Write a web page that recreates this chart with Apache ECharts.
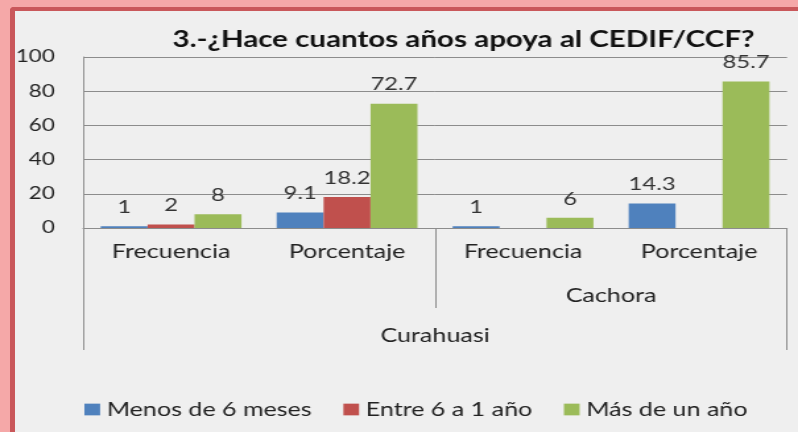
<!DOCTYPE html>
<html>
<head>
<meta charset="utf-8">
<script src="https://cdn.jsdelivr.net/npm/echarts@6/dist/echarts.min.js"></script>
<style>
  html, body { margin: 0; padding: 0; }
  #frame { position: relative; width: 798px; height: 432px; overflow: hidden; background: #f5a8a8; }
  #panel { position: absolute; left: 10px; top: 7px; right: -10px; bottom: -10px; background: #efefef;
           border-left: 5px solid #c9575a; border-top: 4px solid #c9575a; border-top-left-radius: 4px; }
  /* el gráfico original viene estirado horizontalmente */
  #chart { position: absolute; left: 0; top: 0; width: 605px; height: 432px;
           transform: scaleX(1.319); transform-origin: 0 0; }
</style>
</head>
<body>
<div id="frame">
  <div id="panel"></div>
  <div id="chart"></div>
</div>
<script>
// datos
const categorias = ['Frecuencia', 'Porcentaje', 'Frecuencia', 'Porcentaje'];
const distritos = ['', 'Cachora'];
const provincia = ['Curahuasi'];
const nombresSeries = ['Menos de 6 meses', 'Entre 6 a 1 año', 'Más de un año'];
const menosDe6Meses = [1, 9.1, 1, 14.3];
const entre6a1Ano = [2, 18.2, null, null];
const masDeUnAno = [8, 72.7, 6, 85.7];
const colores = ['#4f81bd', '#c0504d', '#9bbb59'];

const fuente = 'Lato';
const gris = '#8c8c8c';

const chart = echarts.init(document.getElementById('chart'), null, { renderer: 'canvas' });

function serie(nombre, datos, color) {
  return {
    name: nombre,
    type: 'bar',
    xAxisIndex: 0,
    data: datos,
    barGap: '0%',
    barCategoryGap: '20%',
    itemStyle: { color: color },
    label: {
      show: true,
      position: 'top',
      distance: 10,
      fontFamily: fuente,
      fontSize: 18,
      color: '#333'
    }
  };
}

chart.setOption({
  backgroundColor: 'transparent',
  animation: false,
  color: colores,
  title: {
    text: '3.-¿Hace cuantos años apoya al CEDIF/CCF?',
    left: 125.7,
    top: 24,
    textStyle: { fontFamily: fuente, fontSize: 22.4, fontWeight: 'bold', color: '#111' }
  },
  legend: {
    left: 59,
    top: 395,
    icon: 'rect',
    itemWidth: 11.9,
    itemHeight: 11.7,
    itemGap: 24,
    textStyle: { fontFamily: fuente, fontSize: 19, color: '#222' },
    data: nombresSeries
  },
  grid: { left: 63, right: 8.3, top: 57, bottom: 204, containLabel: false },
  xAxis: [
    {
      type: 'category',
      data: categorias,
      position: 'bottom',
      axisLine: { show: true, lineStyle: { color: gris, width: 1 } },
      axisTick: { show: false },
      axisLabel: { interval: 0, margin: 14, fontFamily: fuente, fontSize: 19, color: '#222' }
    },
    {
      type: 'category',
      data: distritos,
      position: 'bottom',
      gridIndex: 0,
      axisLine: { show: false },
      axisTick: { show: true, length: 80, interval: 0, lineStyle: { color: gris } },
      axisLabel: { interval: 0, margin: 58, fontFamily: fuente, fontSize: 19, color: '#222' }
    },
    {
      type: 'category',
      data: provincia,
      position: 'bottom',
      gridIndex: 0,
      axisLine: { show: false },
      axisTick: { show: true, length: 122, interval: 0, lineStyle: { color: gris } },
      axisLabel: { interval: 0, margin: 98, fontFamily: fuente, fontSize: 19, color: '#222' }
    }
  ],
  yAxis: {
    type: 'value',
    min: 0,
    max: 100,
    interval: 20,
    axisLine: { show: true, lineStyle: { color: gris } },
    axisTick: { show: false },
    splitLine: { lineStyle: { color: gris, width: 1 } },
    axisLabel: { margin: 21.5, fontFamily: fuente, fontSize: 17, color: '#222' }
  },
  series: [
    serie(nombresSeries[0], menosDe6Meses, colores[0]),
    serie(nombresSeries[1], entre6a1Ano, colores[1]),
    serie(nombresSeries[2], masDeUnAno, colores[2])
  ]
});
</script>
</body>
</html>
